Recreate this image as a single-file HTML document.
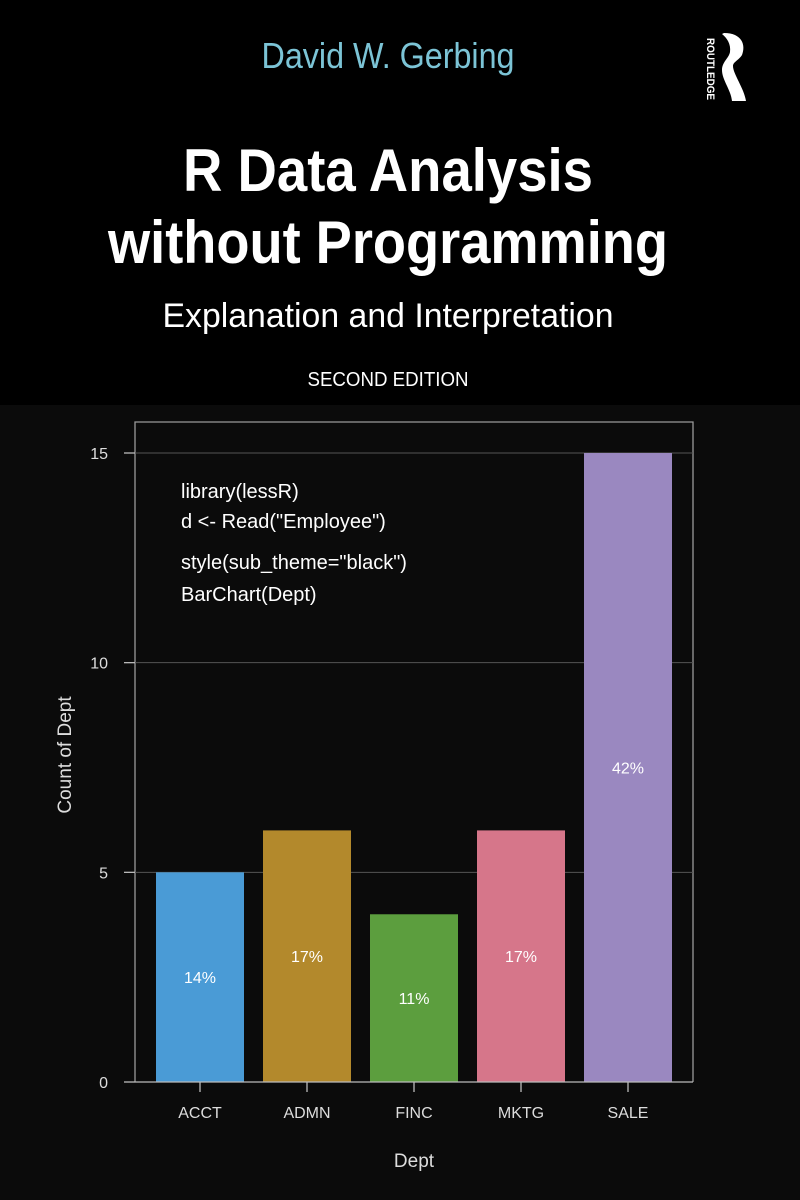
<!DOCTYPE html>
<html><head><meta charset="utf-8"><style>
html,body{margin:0;padding:0;background:#000;}
svg{display:block;}
</style></head><body>
<svg id="cover" width="800" height="1200" viewBox="0 0 800 1200" font-family="Liberation Sans, sans-serif">
<rect x="0" y="0" width="800" height="1200" fill="#000"/>
<rect x="0" y="405" width="800" height="795" fill="#0b0b0b"/>
<text x="388" y="68" font-size="36" fill="#7cc4d6" text-anchor="middle" textLength="253" lengthAdjust="spacingAndGlyphs">David W. Gerbing</text>
<g>
<text x="0" y="0" transform="translate(707,38) rotate(90)" font-size="11" font-weight="bold" fill="#fff" textLength="62" lengthAdjust="spacingAndGlyphs">ROUTLEDGE</text>
<path d="M724 33 C742 33 746 45 742 55 C739 60 733 62 733 66 C733 74 744 88 746 101 L732 101 C731 90 722 80 722 70 C722 62 729 58 730 52 C731 44 727 38 722 34 Z" fill="#fff"/>
</g>
<text x="388" y="191" font-size="60" font-weight="bold" fill="#fff" text-anchor="middle" textLength="410" lengthAdjust="spacingAndGlyphs">R Data Analysis</text>
<text x="388" y="263" font-size="60" font-weight="bold" fill="#fff" text-anchor="middle" textLength="560" lengthAdjust="spacingAndGlyphs">without Programming</text>
<text x="388" y="327" font-size="34" fill="#fff" text-anchor="middle" textLength="451" lengthAdjust="spacingAndGlyphs">Explanation and Interpretation</text>
<text x="388" y="386" font-size="20" fill="#fff" text-anchor="middle" textLength="161" lengthAdjust="spacingAndGlyphs">SECOND EDITION</text>
<g id="chart"></g>
</svg>
<script>
const categories = ["ACCT","ADMN","FINC","MKTG","SALE"];
const counts = [5,6,4,6,15];
const percentLabels = ["14%","17%","11%","17%","42%"];
const yTicks = [0,5,10,15];
const colors = ["#4a9bd6","#b3892c","#5c9e3e","#d6768a","#9a88c0"];

const NS="http://www.w3.org/2000/svg";
const g=document.getElementById('chart');
const x0=135, x1=693, yBase=1082, yTop=422, pxPer=(1082-453)/15;
function yS(v){return yBase - v*pxPer;}
function xS(i){return 156 + i*107;}
const bw=88;
function mk(tag,attrs,parent){const e=document.createElementNS(NS,tag);for(const k in attrs)e.setAttribute(k,attrs[k]);(parent||g).appendChild(e);return e;}

// frame
const fr=mk('path',{d:`M${x0} ${yBase} L${x0} ${yTop} L${x1} ${yTop} L${x1} ${yBase}`,fill:'none',stroke:'#9a9a9a','stroke-width':1.3});


// grid + ticks
yTicks.forEach(v=>{
  if(v>0){const gl=mk('line',{x1:x0,x2:x1,y1:yS(v),y2:yS(v),stroke:'#555','stroke-width':1});
    
    }
  const tk=mk('line',{x1:124,x2:x0,y1:yS(v),y2:yS(v),stroke:'#bbb','stroke-width':1.3});
  
  
  const t=mk('text',{x:108,y:yS(v)+6,'font-size':16,fill:'#ddd','text-anchor':'end'});
  t.textContent=v;
  
  
});
// bars
categories.forEach((c,i)=>{
  const b=mk('rect',{x:xS(i),y:yS(counts[i]),width:bw,height:yBase-yS(counts[i]),fill:colors[i]});
  
  
  const p=mk('text',{x:xS(i)+bw/2,y:yS(counts[i]/2)+6,'font-size':16,fill:'#fff','text-anchor':'middle'});
  p.textContent=percentLabels[i];
  
  
  const tk=mk('line',{x1:xS(i)+bw/2,x2:xS(i)+bw/2,y1:yBase,y2:yBase+10,stroke:'#bbb','stroke-width':1.3});
  
  
  const l=mk('text',{x:xS(i)+bw/2,y:1118,'font-size':16,fill:'#ddd','text-anchor':'middle'});
  l.textContent=c;
  
  
});
const ax=mk('line',{x1:x0,x2:x1,y1:yBase,y2:yBase,stroke:'#bbb','stroke-width':1.3});


const xt=mk('text',{x:414,y:1167,'font-size':19,fill:'#ddd','text-anchor':'middle'});
xt.textContent='Dept';


const yt=mk('text',{x:0,y:0,transform:'translate(71,755) rotate(-90)','font-size':19,fill:'#ddd','text-anchor':'middle'});
yt.textContent='Count of Dept';


// code annotation
const code=['library(lessR)','d <- Read("Employee")','style(sub_theme="black")','BarChart(Dept)'];
const cy=[498,528,569,601];
code.forEach((s,i)=>{
  const t=mk('text',{x:181,y:cy[i],'font-size':20,fill:'#fff'});
  t.textContent=s;
  
  
});
</script>
</body></html>
